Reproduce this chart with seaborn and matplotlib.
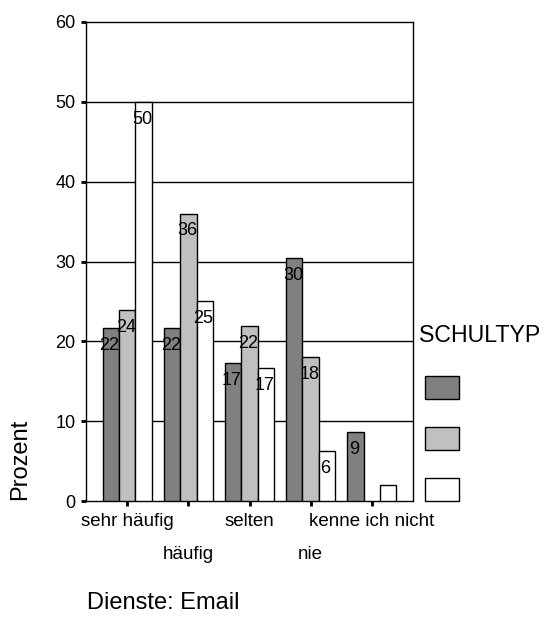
import numpy as np
import pandas as pd
import seaborn as sns
import matplotlib
matplotlib.use("Agg")
import matplotlib.pyplot as plt
from matplotlib.patches import Rectangle
from matplotlib.transforms import ScaledTranslation

# ---- data ----
categories = ["sehr häufig", "häufig", "selten", "nie", "kenne ich nicht"]
schultyp = ["Typ 1", "Typ 2", "Typ 3"]
typ1 = [21.7, 21.7, 17.3, 30.4, 8.6]
typ2 = [23.9, 36.0, 21.9, 18.0, np.nan]
typ3 = [50.0, 25.0, 16.7, 6.3, 2.0]
show_label3 = [True, True, True, True, False]
yticks = [0, 10, 20, 30, 40, 50, 60]
colors = ["#808080", "#c0c0c0", "#ffffff"]

rows = []
for i, c in enumerate(categories):
    for s, vals in zip(schultyp, [typ1, typ2, typ3]):
        rows.append({"Kategorie": c, "SCHULTYP": s, "Prozent": vals[i]})
df = pd.DataFrame(rows)

sns.set_style("white")
plt.rcParams["font.family"] = ["Liberation Sans", "DejaVu Sans"]
plt.rcParams["text.color"] = "black"
plt.rcParams["axes.labelcolor"] = "black"

W, H = 550, 618
fig = plt.figure(figsize=(W / 100, H / 100), dpi=100)
ax = fig.add_axes([86 / W, 1 - 501 / H, 327 / W, 479 / H])

sns.barplot(data=df, x="Kategorie", y="Prozent", hue="SCHULTYP",
            order=categories, hue_order=schultyp, palette=colors,
            edgecolor="black", linewidth=1.0, width=0.8, ax=ax,
            legend=False, zorder=3)

ax.set_xlim(-0.674, 4.674)
ax.set_ylim(0, 60)
ax.set_yticks(yticks)
ax.set_yticklabels([str(t) for t in yticks])
for t in yticks[1:-1]:
    ax.axhline(t, color="black", lw=1.0, zorder=1)

for sp in ax.spines.values():
    sp.set_visible(True)
    sp.set_color("black")
    sp.set_linewidth(1.0)

ax.tick_params(axis="y", direction="out", length=3.5, width=2.0, pad=4,
               labelsize=13, colors="black", left=True)
ax.tick_params(axis="x", direction="out", length=3.5, width=2.0, pad=5,
               labelsize=13.5, colors="black", bottom=True)
ax.set_xticks(range(len(categories)))
ax.set_xticklabels(categories)
for i, lab in enumerate(ax.get_xticklabels()):
    if i % 2 == 1:
        lab.set_transform(lab.get_transform() +
                          ScaledTranslation(0, -0.33, fig.dpi_scale_trans))

# bar value labels
label_flags = [[True] * 5, [not np.isnan(v) for v in typ2], show_label3]
for cont, vals, flags in zip(ax.containers, [typ1, typ2, typ3], label_flags):
    for bar, v, f in zip(cont, vals, flags):
        if not f or np.isnan(v):
            continue
        cx = bar.get_x() + bar.get_width() / 2
        ax.annotate(f"{round(v):d}", xy=(cx, v), xytext=(-1, -12.5),
                    textcoords="offset points", ha="center", va="center",
                    fontsize=13, color="black", zorder=5)

ax.set_xlabel("Dienste: Email", fontsize=17, ha="left", va="center",
              color="black")
ax.xaxis.set_label_coords(1 / 327, (501 - 603) / 479)
ax.set_ylabel("Prozent", fontsize=17, ha="center", va="center",
              color="black")
ax.yaxis.set_label_coords((20 - 86) / 327, (501 - 459) / 479)

fig.text(419 / W, 1 - 336 / H, "SCHULTYP", fontsize=16.7, color="black",
         ha="left", va="center")

handles = [Rectangle((0, 0), 1, 1, facecolor=c, edgecolor="black", lw=1.0)
           for c in colors]
leg = fig.legend(handles, ["", "", ""],
                 loc="upper left", bbox_to_anchor=(421 / W, 1 - 372 / H),
                 frameon=False, fontsize=10, borderaxespad=0,
                 handlelength=2.45, handleheight=2.2, labelspacing=1.98,
                 handletextpad=0.2, borderpad=0.3)

fig.savefig("out.png", dpi=100)
